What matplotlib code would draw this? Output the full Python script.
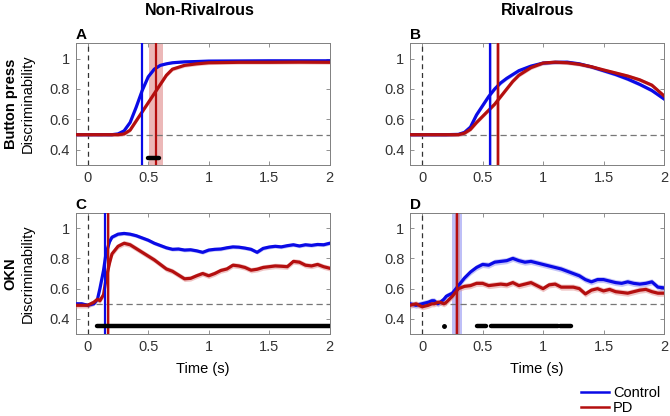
import matplotlib.pyplot as plt
from matplotlib.lines import Line2D
import numpy as np

plt.rcParams['font.family'] = ['Liberation Sans', 'DejaVu Sans']

# ---- data ----
# A: non-rivalrous, button press
a_t = [-0.1, 0.0, 0.1, 0.2, 0.25, 0.3, 0.35, 0.4, 0.45, 0.5, 0.55, 0.6, 0.65, 0.7, 0.8, 0.9, 1.0, 1.25, 1.5, 1.75, 2.0]
a_ctrl = [0.5, 0.5, 0.5, 0.5, 0.505, 0.525, 0.58, 0.68, 0.79, 0.88, 0.93, 0.955, 0.965, 0.972, 0.978, 0.98, 0.983, 0.984, 0.985, 0.985, 0.985]
a_pd = [0.5, 0.5, 0.5, 0.5, 0.5, 0.505, 0.53, 0.59, 0.65, 0.71, 0.77, 0.83, 0.89, 0.93, 0.955, 0.965, 0.972, 0.975, 0.975, 0.976, 0.975]
a_sem = [0.006, 0.012]
a_onset = [0.45, 0.565]
a_onset_ci = [(0.44, 0.46), (0.51, 0.625)]
a_sig = [(0.5, 0.59)]

# B: rivalrous, button press
b_t = [-0.1, 0.0, 0.1, 0.2, 0.3, 0.35, 0.4, 0.45, 0.5, 0.55, 0.6, 0.65, 0.7, 0.75, 0.8, 0.9, 1.0, 1.1, 1.2, 1.3, 1.4, 1.5, 1.6, 1.7, 1.8, 1.9, 2.0]
b_ctrl = [0.5, 0.5, 0.5, 0.5, 0.502, 0.515, 0.55, 0.63, 0.69, 0.75, 0.80, 0.84, 0.87, 0.895, 0.92, 0.95, 0.97, 0.975, 0.976, 0.965, 0.945, 0.92, 0.895, 0.865, 0.83, 0.79, 0.735]
b_pd = [0.5, 0.5, 0.5, 0.5, 0.5, 0.51, 0.535, 0.58, 0.62, 0.66, 0.70, 0.75, 0.80, 0.85, 0.89, 0.94, 0.97, 0.976, 0.972, 0.962, 0.946, 0.925, 0.905, 0.885, 0.86, 0.825, 0.755]
b_sem = [0.012, 0.012]
b_onset = [0.565, 0.625]
b_onset_ci = [(0.55, 0.58), (0.61, 0.64)]
b_sig = []

# C: non-rivalrous, OKN
c_t = [-0.1, -0.05, 0.0, 0.05, 0.08, 0.1, 0.13, 0.15, 0.18, 0.2, 0.25, 0.3, 0.35, 0.4, 0.45, 0.5, 0.55, 0.6, 0.65, 0.7, 0.75, 0.8,
       0.85, 0.9, 0.95, 1.0, 1.05, 1.1, 1.15, 1.2, 1.25, 1.3, 1.35, 1.4, 1.45, 1.5, 1.55, 1.6, 1.65, 1.7, 1.75, 1.8, 1.85, 1.9, 1.95, 2.0]
c_ctrl = [0.50, 0.50, 0.49, 0.50, 0.53, 0.60, 0.72, 0.83, 0.91, 0.94, 0.96, 0.965, 0.96, 0.95, 0.935, 0.92, 0.90, 0.885, 0.87, 0.86, 0.862, 0.855,
          0.857, 0.85, 0.84, 0.855, 0.86, 0.862, 0.87, 0.876, 0.874, 0.868, 0.86, 0.84, 0.866, 0.875, 0.88, 0.876, 0.884, 0.89, 0.882, 0.89, 0.886, 0.892, 0.89, 0.90]
c_pd = [0.49, 0.49, 0.49, 0.51, 0.53, 0.52, 0.56, 0.66, 0.77, 0.83, 0.88, 0.90, 0.89, 0.865, 0.84, 0.815, 0.79, 0.76, 0.73, 0.715, 0.69, 0.665,
        0.668, 0.685, 0.70, 0.685, 0.70, 0.72, 0.73, 0.755, 0.75, 0.74, 0.722, 0.728, 0.74, 0.745, 0.75, 0.748, 0.745, 0.78, 0.775, 0.755, 0.75, 0.76, 0.745, 0.735]
c_sem = [0.012, 0.018]
c_onset = [0.14, 0.17]
c_onset_ci = [(0.13, 0.15), (0.16, 0.18)]
c_sig = [(0.08, 2.0)]

# D: rivalrous, OKN
d_t = c_t
d_ctrl = [0.50, 0.49, 0.50, 0.51, 0.52, 0.52, 0.50, 0.51, 0.53, 0.55, 0.57, 0.62, 0.67, 0.71, 0.74, 0.76, 0.755, 0.775, 0.78, 0.785, 0.80, 0.785,
          0.775, 0.78, 0.77, 0.76, 0.75, 0.74, 0.73, 0.715, 0.70, 0.685, 0.66, 0.645, 0.66, 0.66, 0.65, 0.64, 0.635, 0.645, 0.635, 0.63, 0.635, 0.645, 0.61, 0.605]
d_pd = [0.49, 0.50, 0.48, 0.49, 0.50, 0.50, 0.51, 0.51, 0.50, 0.51, 0.55, 0.60, 0.615, 0.62, 0.635, 0.635, 0.62, 0.625, 0.63, 0.625, 0.64, 0.62,
        0.63, 0.64, 0.62, 0.60, 0.625, 0.63, 0.61, 0.61, 0.61, 0.60, 0.565, 0.59, 0.60, 0.585, 0.595, 0.58, 0.575, 0.57, 0.58, 0.59, 0.595, 0.58, 0.57, 0.57]
d_sem = [0.02, 0.02]
d_onset = [0.29, 0.29]
d_onset_ci = [(0.25, 0.33), (0.27, 0.31)]
d_sig = [(0.18, 0.18), (0.45, 0.53), (0.57, 1.12), (1.14, 1.23)]

BLUE = '#0a0ae6'
RED = '#b40f0f'
BAND_BLUE = '#7f80f0'
BAND_RED = '#e08a8a'

fig = plt.figure(figsize=(6.7, 4.16), dpi=100)

panels = [
    ('A', [0.113, 0.603, 0.379, 0.293], a_t, a_ctrl, a_pd, a_sem, a_onset, a_onset_ci, a_sig),
    ('B', [0.612, 0.603, 0.379, 0.293], b_t, b_ctrl, b_pd, b_sem, b_onset, b_onset_ci, b_sig),
    ('C', [0.113, 0.197, 0.379, 0.291], c_t, c_ctrl, c_pd, c_sem, c_onset, c_onset_ci, c_sig),
    ('D', [0.612, 0.197, 0.379, 0.291], d_t, d_ctrl, d_pd, d_sem, d_onset, d_onset_ci, d_sig),
]

for letter, rect, t, ctrl, pd_, sem, onset, ci, sig in panels:
    ax = fig.add_axes(rect)
    t = np.array(t)
    ctrl = np.array(ctrl)
    pd_ = np.array(pd_)

    # onset markers with confidence shading
    ax.axvspan(ci[0][0], ci[0][1], color=BAND_BLUE, alpha=0.5, lw=0, zorder=1)
    ax.axvspan(ci[1][0], ci[1][1], color=BAND_RED, alpha=0.6, lw=0, zorder=1)

    ax.axvline(0, color='#333333', ls=(0, (4, 3)), lw=0.9, zorder=2)
    ax.axhline(0.5, color='#777777', ls=(0, (5, 3)), lw=0.9, zorder=2)

    ax.fill_between(t, ctrl - sem[0], ctrl + sem[0], color=BAND_BLUE, alpha=0.45, lw=0, zorder=3)
    ax.fill_between(t, pd_ - sem[1], pd_ + sem[1], color=BAND_RED, alpha=0.5, lw=0, zorder=3)
    ax.plot(t, ctrl, color=BLUE, lw=2.3, zorder=4)
    ax.plot(t, pd_, color=RED, lw=2.3, zorder=5)

    ax.axvline(onset[0], color=BLUE, lw=1.6, zorder=6)
    ax.axvline(onset[1], color=RED, lw=1.6, zorder=6)

    for s0, s1 in sig:
        if s0 == s1:
            ax.plot([s0], [0.35], 'o', color='black', ms=2.5, zorder=7)
        else:
            ax.plot([s0, s1], [0.35, 0.35], color='black', lw=3.2, solid_capstyle='round', zorder=7)

    ax.set_xlim(-0.1, 2)
    ax.set_ylim(0.3, 1.1)
    ax.set_xticks([0, 0.5, 1, 1.5, 2])
    ax.set_xticklabels(['0', '0.5', '1', '1.5', '2'])
    ax.set_yticks([0.4, 0.6, 0.8, 1])
    ax.set_yticklabels(['0.4', '0.6', '0.8', '1'])
    ax.tick_params(direction='in', top=True, right=True, length=3, width=0.6,
                   colors='#808080', labelcolor='#333333', labelsize=10.5, pad=4)
    for sp in ax.spines.values():
        sp.set_color('#808080')
        sp.set_linewidth(0.7)

    ax.text(0.0, 1.01, letter, transform=ax.transAxes, fontsize=11, fontweight='bold',
            ha='left', va='bottom')

    if letter in ('C', 'D'):
        ax.set_xlabel('Time (s)', fontsize=10.5, labelpad=6)

fig.text(0.298, 0.975, 'Non-Rivalrous', fontsize=11.5, fontweight='bold', ha='center', va='center')
fig.text(0.802, 0.975, 'Rivalrous', fontsize=11.5, fontweight='bold', ha='center', va='center')

fig.text(0.016, 0.75, 'Button press', rotation=90, fontsize=10.5, fontweight='bold', ha='center', va='center')
fig.text(0.042, 0.75, 'Discriminability', rotation=90, fontsize=10.5, ha='center', va='center')
fig.text(0.016, 0.343, 'OKN', rotation=90, fontsize=10.5, fontweight='bold', ha='center', va='center')
fig.text(0.042, 0.343, 'Discriminability', rotation=90, fontsize=10.5, ha='center', va='center')

handles = [Line2D([], [], color=BLUE, lw=1.8), Line2D([], [], color=RED, lw=1.8)]
fig.legend(handles, ['Control', 'PD'], loc='lower right', bbox_to_anchor=(1.005, -0.03),
           frameon=False, fontsize=10.5, handlelength=1.9, handletextpad=0.3, labelspacing=0.1)

fig.savefig('out.png', dpi=100)
